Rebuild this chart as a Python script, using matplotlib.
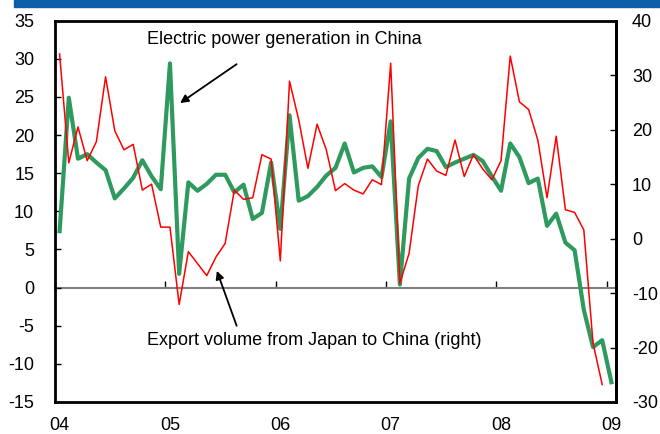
import matplotlib
matplotlib.use("Agg")
import matplotlib.pyplot as plt
from matplotlib.patches import Rectangle
import numpy as np

plt.rcParams['font.family'] = ['Liberation Sans', 'DejaVu Sans']

# Year labels (one per January, 2004-2009)
year_labels = ['04', '05', '06', '07', '08', '09']

# Electric power generation in China, % y/y (left axis), Jan 2004 - Jan 2009
power_gen = [
    7.4, 24.9, 16.9, 17.5, 16.4, 15.4, 11.7, 13.0, 14.4, 16.7, 14.6, 12.9,
    29.4, 1.8, 13.8, 12.7, 13.6, 14.8, 14.8, 12.5, 13.5, 9.0, 9.8, 16.4,
    7.7, 22.6, 11.4, 12.0, 13.2, 14.7, 15.7, 18.9, 15.1, 15.7, 15.9, 14.5,
    21.8, 0.4, 14.3, 17.0, 18.2, 17.9, 15.8, 16.4, 16.9, 17.4, 16.6, 14.6,
    12.7, 18.9, 17.1, 13.7, 14.3, 8.1, 9.7, 5.9, 4.9, -2.9, -7.8, -6.9,
    -12.4,
]

# Export volume from Japan to China, % y/y (right axis), Jan 2004 - Dec 2008
export_vol = [
    33.9, 13.9, 20.5, 14.3, 17.8, 29.7, 19.8, 16.3, 17.3, 8.9, 10.0, 2.1,
    2.1, -12.1, -2.4, -4.6, -6.8, -3.4, -0.9, 8.9, 7.2, 7.5, 15.4, 14.6,
    -4.1, 28.9, 21.8, 12.9, 21.0, 16.3, 8.8, 10.1, 8.9, 8.2, 10.8, 9.9,
    32.2, -8.2, -2.7, 9.7, 14.6, 12.4, 11.6, 18.1, 11.4, 15.4, 12.8, 10.8,
    14.3, 33.5, 25.1, 23.7, 18.1, 7.5, 18.8, 5.3, 4.8, 1.6, -19.2, -26.8,
]

left_ticks = list(range(-15, 36, 5))
right_ticks = list(range(-30, 41, 10))

W, H = 660, 434
fig = plt.figure(figsize=(W / 100, H / 100), dpi=100)
fig.patches.append(Rectangle((14 / W, 1 - 7 / H), 1 - 14 / W, 7 / H,
                             transform=fig.transFigure, color='#0B5EA8',
                             zorder=0))

ax = fig.add_axes([55 / W, 1 - 402 / H, (616 - 55) / W, (402 - 20.7) / H])

n_months = len(power_gen)
x_power = np.arange(len(power_gen)) + 0.5
x_export = np.arange(len(export_vol)) + 0.5

ax.set_xlim(0, n_months)
ax.set_ylim(-15, 35)
ax.set_yticks(left_ticks)
ax.set_yticklabels([str(t) for t in left_ticks])
ax.tick_params(axis='y', direction='in', length=4, width=1, labelsize=13,
               pad=15)
ax.set_xticks([12 * k + 0.5 for k in range(len(year_labels))])
ax.set_xticklabels(year_labels)
ax.tick_params(axis='x', length=0, labelsize=13, pad=11)

for side in ['left', 'top', 'bottom', 'right']:
    ax.spines[side].set_linewidth(2.0)
    ax.spines[side].set_color('black')

# zero line carrying the year-boundary tick marks
sec = ax.secondary_xaxis(0.3)
sec.set_xticks([12 * k for k in range(len(year_labels))])
sec.tick_params(axis='x', direction='in', length=5, width=1,
                labelbottom=False, colors='black')
sec.spines['bottom'].set_color('#808080')
sec.spines['bottom'].set_linewidth(1.5)

ax.plot(x_power, power_gen, color='#2E9A5E', lw=3.0, zorder=3)

ax2 = ax.twinx()
ax2.set_ylim(-30, 40)
ax2.set_yticks(right_ticks)
ax2.set_yticklabels([str(t) for t in right_ticks])
ax2.tick_params(axis='y', direction='in', length=4, width=1, labelsize=13,
                pad=11.5)
for side in ['left', 'top', 'bottom']:
    ax2.spines[side].set_visible(False)
ax2.spines['right'].set_linewidth(2.0)
ax2.spines['right'].set_color('black')

ax2.plot(x_export, export_vol, color='#FF0000', lw=1.1, zorder=3)

ax.text(9.97, 32.0, 'Electric power generation in China', fontsize=13,
        ha='left', va='baseline')
ax.annotate('', xy=(13.6, 24.2), xytext=(19.75, 29.3),
            arrowprops=dict(arrowstyle='-|>', color='black', lw=1.3,
                            mutation_scale=12, shrinkA=0, shrinkB=0))

ax.text(9.97, -7.5, 'Export volume from Japan to China (right)', fontsize=13,
        ha='left', va='baseline')
ax.annotate('', xy=(17.6, 2.2), xytext=(19.75, -5.0),
            arrowprops=dict(arrowstyle='-|>', color='black', lw=1.3,
                            mutation_scale=12, shrinkA=0, shrinkB=0))

fig.savefig('out.png', dpi=100)
